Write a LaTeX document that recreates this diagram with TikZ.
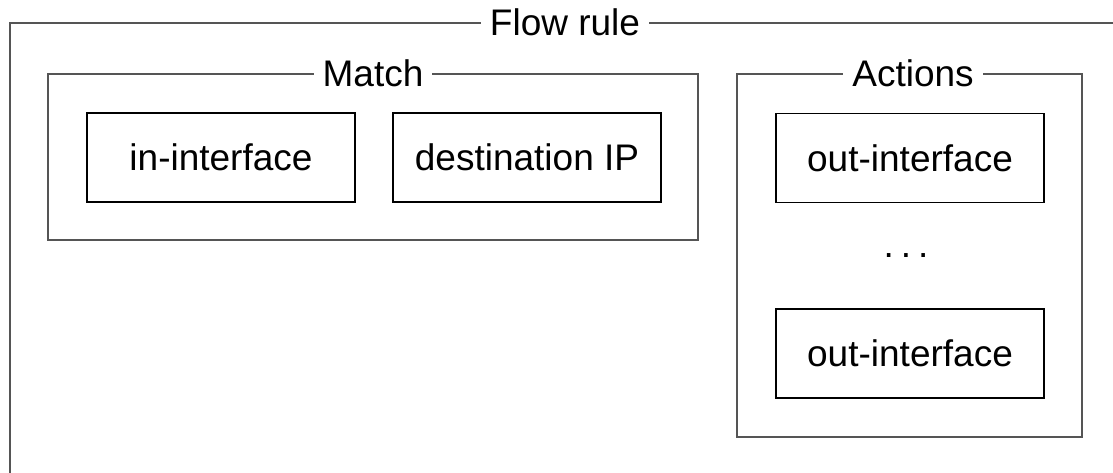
\documentclass[tikz,border=0pt]{standalone}
\usepackage{fontspec}
\setmainfont{Liberation Sans}
\definecolor{framegray}{RGB}{85,85,85}
\begin{document}
\begin{tikzpicture}[x=1pt,y=-1pt,
  every node/.style={font=\fontsize{37}{44}\selectfont},
  frame/.style={draw=framegray,line width=1.2pt},
  fieldbox/.style={draw=black,line width=1.1pt,inner sep=0pt,minimum width=268pt,minimum height=89pt},
  frametitle/.style={fill=white,inner xsep=9pt,inner ysep=0pt,anchor=center}]
\clip (0,0) rectangle (1113,473);
% outer frame (extends beyond the picture)
\draw[frame] (10,23) rectangle (1120,500);
\node[frametitle] (flowtitle) at (565,22) {Flow rule};
% Match frame
\draw[frame] (48,74) rectangle (698,240);
\node[frametitle] (matchtitle) at (373,73) {Match};
% Actions frame
\draw[frame] (737,74) rectangle (1082,437);
\node[frametitle] (actionstitle) at (913,73) {Actions};
% fields
\node[fieldbox] (inif) at (221,157.5) {in-interface};
\node[fieldbox] (dstip) at (527,157.5) {destination IP};
\node[fieldbox] (out1) at (910,158) {out-interface};
\node[fieldbox] (out2) at (910,353.5) {out-interface};
\node[inner sep=0pt] (dots) at (906,256) {.\kern7pt.\kern7pt.};
\end{tikzpicture}
\end{document}
